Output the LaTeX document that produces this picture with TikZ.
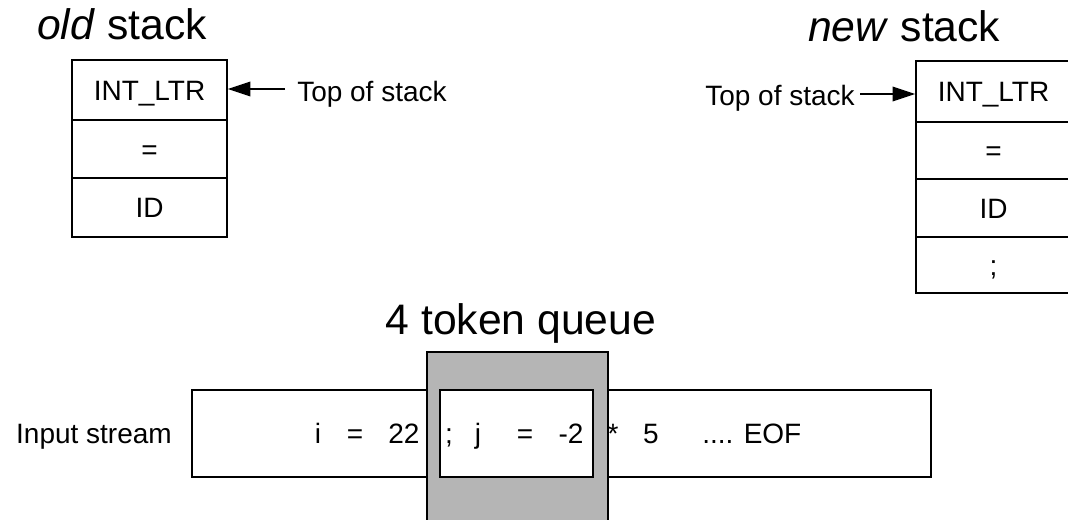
\documentclass[tikz,border=0pt]{standalone}
\usepackage{fontspec}
\setmainfont{Liberation Sans}
\usetikzlibrary{arrows.meta}
\begin{document}
\begin{tikzpicture}[x=0.75pt,y=-0.75pt,
  cell/.style={draw,line width=1.1pt,inner sep=0pt,minimum width=116.25pt,text height=15.5pt,text depth=0pt,font=\fontsize{21}{25}\selectfont},
  lab/.style={inner sep=0pt,font=\fontsize{21}{25}\selectfont},
  ttl/.style={inner sep=0pt,font=\fontsize{32}{38}\selectfont},
  tok/.style={inner sep=0pt,anchor=base,font=\fontsize{21}{25}\selectfont},
  arr/.style={line width=1.1pt,-{Triangle[length=17pt,width=11pt]}},
  boxline/.style={draw,line width=1.1pt}]
\clip (0,0) rectangle (1068,520);
% titles
\node[ttl,anchor=base west] (told) at (37,40) {\textit{old} stack};
\node[ttl,anchor=base west] (tnew) at (808,42) {\textit{new} stack};
\node[ttl,anchor=base] (tq) at (521,335) {4 token queue};
% old stack
\node[cell,minimum height=45pt] (o1) at (149.5,90) {INT\_LTR};
\node[cell,minimum height=43.5pt] (o2) at (149.5,149) {=};
\node[cell,minimum height=44.25pt] (o3) at (149.5,207.5) {ID};
\node[lab,anchor=base west] (lo) at (297,102) {Top of stack};
\coordinate (ao) at (285,89);
\draw[arr] (ao) -- (ao -| o1.east);
% new stack
\node[cell,minimum height=45.75pt] (n1) at (993.5,91.5) {INT\_LTR};
\node[cell,minimum height=42.75pt] (n2) at (993.5,150.5) {=};
\node[cell,minimum height=43.5pt] (n3) at (993.5,208) {ID};
\node[cell,minimum height=42pt] (n4) at (993.5,265) {;};
\node[lab,anchor=base east] (ln) at (855,106) {Top of stack};
\coordinate (an) at (860,94);
\draw[arr] (an) -- (an -| n1.west);
% input stream
\node[lab,anchor=base] (lin) at (94,443) {Input stream};
\node[boxline,inner sep=0pt,minimum width=554.25pt,minimum height=65.25pt] (inbox) at (561.5,433.5) {};
\node[draw,line width=1.1pt,fill=black!29,inner sep=0pt,minimum width=135.75pt,minimum height=135pt] (qframe) at (517.5,442) {};
\node[boxline,fill=white,inner sep=0pt,minimum width=114.75pt,minimum height=65.25pt] (win) at (516.5,433.5) {};
% tokens
\node[tok] (k1) at (318,443) {i};
\node[tok] (k2) at (355,443) {=};
\node[tok] (k3) at (404,443) {22};
\node[tok] (k4) at (449,443) {;};
\node[tok] (k5) at (478,443) {j};
\node[tok] (k6) at (525,443) {=};
\node[tok] (k7) at (571,443) {-2};
\node[tok] (k8) at (613,443) {*};
\node[tok] (k9) at (651,443) {5};
\node[tok,anchor=base west] (k10) at (702,443) {.... EOF};
\end{tikzpicture}
\end{document}
